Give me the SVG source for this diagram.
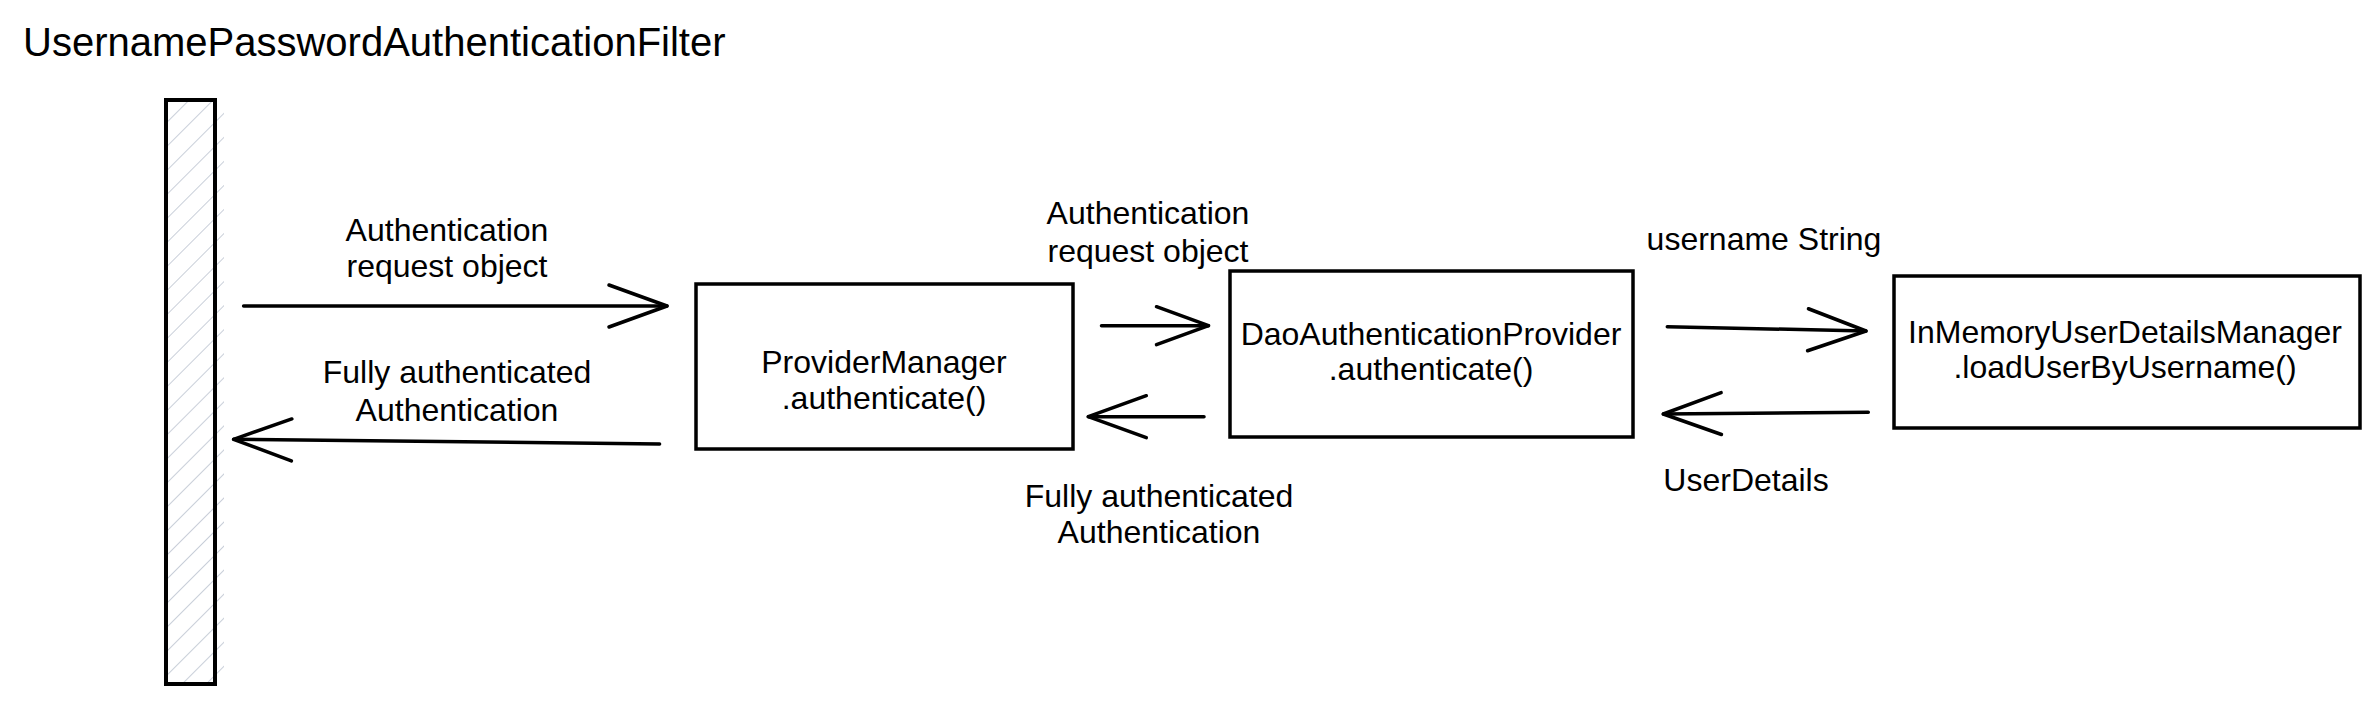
<svg xmlns="http://www.w3.org/2000/svg" width="2379" height="704" viewBox="0 0 2379 704">
  <style>
    text { font-family: "Liberation Sans", Arial, Helvetica, sans-serif; fill: #000; }
    .lbl { font-size: 32px; text-anchor: middle; }
    .box { fill: #fff; stroke: #000; stroke-width: 3.5; }
    .conn { fill: none; stroke: #000; stroke-width: 3.5; stroke-linecap: round; }
    .hatch { stroke: #c3cad5; stroke-width: 1.8; }
  </style>
  <defs>
    <marker id="open" markerUnits="userSpaceOnUse" viewBox="-64 -28 70 56" markerWidth="70" markerHeight="56" refX="0" refY="0" orient="auto" overflow="visible">
      <path d="M-58,-21 L0,0 L-58,21" fill="none" stroke="#000" stroke-width="3.5" stroke-linecap="round" stroke-linejoin="round"/>
    </marker>
    <marker id="openS" markerUnits="userSpaceOnUse" viewBox="-64 -28 70 56" markerWidth="70" markerHeight="56" refX="0" refY="0" orient="auto" overflow="visible">
      <path d="M-52,-19 L0,0 L-52,19" fill="none" stroke="#000" stroke-width="3.5" stroke-linecap="round" stroke-linejoin="round"/>
    </marker>
    <pattern id="hatchPat" patternUnits="userSpaceOnUse" width="17" height="17" patternTransform="rotate(45)">
      <line x1="0" y1="-2" x2="0" y2="19" class="hatch"/>
    </pattern>
    <clipPath id="hatchClip">
      <rect x="167" y="101" width="57" height="581"/>
    </clipPath>
  </defs>

  <rect width="2379" height="704" fill="#fff"/>

  <g id="filter">
    <text x="23" y="56" font-size="40">UsernamePasswordAuthenticationFilter</text>
    <rect x="167" y="101" width="57" height="581" fill="url(#hatchPat)" clip-path="url(#hatchClip)"/>
    <rect x="166" y="100" width="49" height="584" fill="none" stroke="#000" stroke-width="4"/>
  </g>

  <g id="provider-manager">
    <rect class="box" x="696" y="284" width="377" height="165"/>
    <text class="lbl" x="884" y="373">ProviderManager</text>
    <text class="lbl" x="884" y="409">.authenticate()</text>
  </g>

  <g id="dao-provider">
    <rect class="box" x="1230" y="271" width="403" height="166"/>
    <text class="lbl" x="1431" y="345">DaoAuthenticationProvider</text>
    <text class="lbl" x="1431" y="380">.authenticate()</text>
  </g>

  <g id="inmemory-manager">
    <rect class="box" x="1894" y="276" width="466" height="152"/>
    <text class="lbl" x="2125" y="343">InMemoryUserDetailsManager</text>
    <text class="lbl" x="2125" y="378">.loadUserByUsername()</text>
  </g>

  <g id="connectors">
    <path class="conn" d="M243.6,306 L667,306" marker-end="url(#open)"/>
    <path class="conn" d="M659.6,444 L233.6,439.3" marker-end="url(#open)"/>
    <path class="conn" d="M1101.5,325.7 L1208.5,325.7" marker-end="url(#openS)"/>
    <path class="conn" d="M1204,416.7 L1088.3,416.7" marker-end="url(#open)"/>
    <path class="conn" d="M1667.3,326.7 L1866,331" marker-end="url(#open)"/>
    <path class="conn" d="M1868.3,412.3 L1663.3,414" marker-end="url(#open)"/>
  </g>

  <g id="connector-labels">
    <text class="lbl" x="447" y="241">Authentication</text>
    <text class="lbl" x="447" y="277">request object</text>
    <text class="lbl" x="457" y="383">Fully authenticated</text>
    <text class="lbl" x="457" y="421">Authentication</text>
    <text class="lbl" x="1148" y="224" font-size="33.5">Authentication</text>
    <text class="lbl" x="1148" y="262" font-size="33.5">request object</text>
    <text class="lbl" x="1159" y="507">Fully authenticated</text>
    <text class="lbl" x="1159" y="543">Authentication</text>
    <text class="lbl" x="1764" y="250" font-size="36">username String</text>
    <text class="lbl" x="1746" y="491">UserDetails</text>
  </g>
</svg>
